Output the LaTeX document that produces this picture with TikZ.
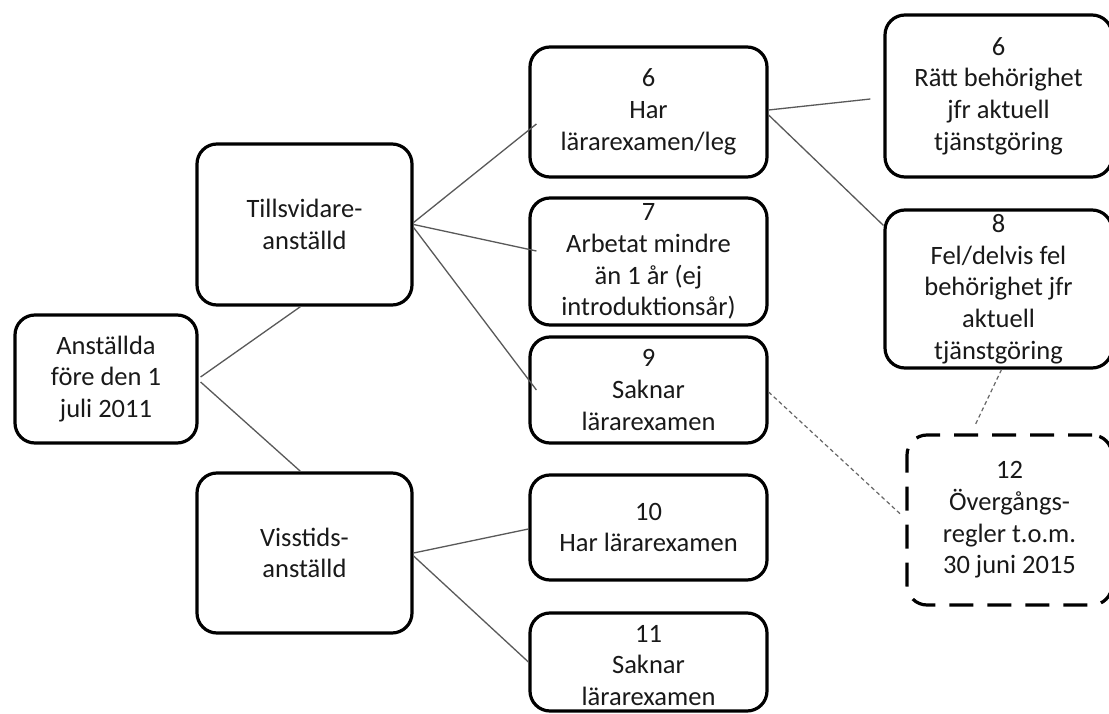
\documentclass[tikz,border=0pt]{standalone}
\usepackage{fontspec}
\setmainfont{Carlito}
\begin{document}
\begin{tikzpicture}[x=1pt,y=-1pt,
  txt/.style={align=center, inner sep=0pt, font=\fontsize{26.5}{31.7}\selectfont, text=black!90},
  box/.style={txt, draw=black, line width=3.2pt, rounded corners=20pt},
  dbox/.style={box, dash pattern=on 24pt off 14pt},
  conn/.style={draw=black!65, line width=1.3pt},
  dotconn/.style={draw=black!60, line width=1.2pt, dash pattern=on 4pt off 3pt},
]
\useasboundingbox (0,0) rectangle (1109,714);
\clip (0,0) rectangle (1109,714);
\fill[white] (0,0) rectangle (1109,714);

\node[box, minimum width=182pt, minimum height=128pt] (A) at (106,379) {Anställda\\före den 1\\juli 2011};
\node[box, minimum width=215pt, minimum height=161pt] (T) at (304.5,224.5) {Tillsvidare-\\anställd};
\node[box, minimum width=215pt, minimum height=160pt] (V) at (304.5,553) {Visstids-\\anställd};

\node[box, minimum width=237pt, minimum height=130pt] (B6) at (648.5,112) {6\\Har\\lärarexamen/leg};
\node[box, minimum width=237pt, minimum height=127pt] (B7) at (648.5,261.5) {7\\Arbetat mindre\\än 1 år (ej\\introduktionsår)};
\node[box, minimum width=237pt, minimum height=106pt] (B9) at (648.5,390) {9\\Saknar\\lärarexamen};
\node[box, minimum width=237pt, minimum height=105pt] (B10) at (648.5,527.5) {10\\Har lärarexamen};
\node[box, minimum width=237pt, minimum height=98pt] (B11) at (648.5,662) {};
\node[txt] (B11t) at (648.5,665.5) {11\\Saknar\\lärarexamen};

\node[box, minimum width=227pt, minimum height=162pt] (R6) at (998.5,96) {6\\Rätt behörighet\\jfr aktuell\\tjänstgöring};
\node[box, minimum width=227pt, minimum height=158pt] (B8) at (998.5,289) {8\\Fel/delvis fel\\behörighet jfr\\aktuell\\tjänstgöring};
\node[dbox, minimum width=205pt, minimum height=170pt] (B12) at (1009.5,520) {12\\Övergångs-\\regler t.o.m.\\30 juni 2015};

\draw[conn] ([xshift=2pt,yshift=2pt]A.east) -- ([xshift=-4pt]T.south);
\draw[conn] ([xshift=2pt,yshift=-3pt]A.east) -- ([xshift=-4pt]V.north);

\draw[conn] ([yshift=2pt]T.east) -- ([xshift=8pt,yshift=-12pt]B6.west);
\draw[conn] (T.east) -- ([xshift=8pt,yshift=10.5pt]B7.west);
\draw[conn] ([yshift=-3pt]T.east) -- ([xshift=8pt]B9.west);

\draw[conn] (V.east) -- ([yshift=-1.5pt]B10.west);
\draw[conn] ([yshift=-3pt]V.east) -- (B11.west);

\draw[conn] ([yshift=2pt]B6.east) -- ([xshift=-13pt,yshift=-3pt]R6.west);
\draw[conn] ([yshift=-3pt]B6.east) -- ([yshift=-17pt]B8.north west);

\draw[dotconn] ([yshift=-2pt]B9.east) -- ([xshift=-4pt,yshift=5pt]B12.west);
\draw[dotconn] ([xshift=3pt]B8.south) -- ([xshift=-35pt,yshift=7pt]B12.north);
\end{tikzpicture}
\end{document}
